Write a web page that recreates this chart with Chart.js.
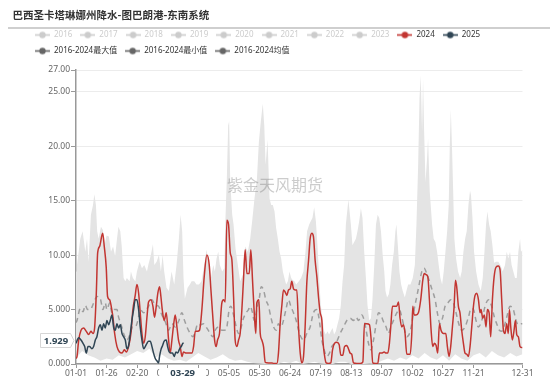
<!DOCTYPE html>
<html><head><meta charset="utf-8">
<script src="https://cdn.jsdelivr.net/npm/chart.js@4.4.1/dist/chart.umd.min.js"></script>
<style>
html,body{margin:0;padding:0;background:#fff;}
#wrap{position:relative;width:550px;height:382px;overflow:hidden;}
canvas{position:absolute;left:0;top:0;}
#title{position:absolute;left:12.5px;top:8px;height:14px;font:bold 10.5px/14px 'Noto Sans CJK SC',sans-serif;color:#333;white-space:nowrap;}
#rule{position:absolute;left:7.5px;top:27px;width:542.5px;height:1.5px;background:#cfcfcf;}
</style></head><body>
<div id="wrap"><canvas id="c" width="550" height="382"></canvas><div id="title">巴西圣卡塔琳娜州降水-图巴朗港-东南系统</div><div id="rule"></div></div>
<script>
// ---- legend / axis text ----
const inactiveYears = ['2016','2017','2018','2019','2020','2021','2022','2023'];
const activeYears = ['2024','2025'];
const statNames = ['2016-2024最大值','2016-2024最小值','2016-2024均值'];
const xTickDays = [0,25,50,75,100,125,150,175,200,225,250,275,300,325,365];
const xTickLabels = ['01-01','01-26','02-20','03-16','04-10','05-05','05-30','06-24','07-19','08-13','09-07','10-02','10-27','11-21','12-31'];
const yTickValues = [0,5,10,15,20,25,27];
const yTickLabels = ['0.000','5.000','10.00','15.00','20.00','25.00','27.00'];
const pointerDay = 88, pointerDayLabel = '03-29';
const pointerValue = 1.929, pointerValueLabel = '1.929';
const watermark = '紫金天风期货';

// ---- series: [day of year, value] ----
const rain2024 = [[0,0.5],[0.8,0.67],[2.2,2.2],[4.1,3.1],[6.2,3.3],[8.4,3.0],[10.3,2.7],[12.2,3.0],[13.9,2.8],[15.2,3.3],[16.6,6.5],[17.7,10.2],[19.3,10.8],[21.8,12.0],[23.1,10.8],[24.7,8.9],[25.8,6.2],[27.5,5.9],[28.8,5.3],[30.2,4.3],[31.6,2.8],[33.5,1.6],[35.6,1.1],[37.6,1.0],[39.5,1.3],[41.1,1.1],[43.0,1.6],[44.9,2.8],[46.5,5.0],[48.4,6.3],[49.8,7.3],[51.2,6.5],[52.5,4.7],[53.9,2.8],[55.3,1.9],[56.6,2.5],[58.0,4.3],[59.3,5.7],[61.2,5.9],[62.9,5.3],[64.2,4.3],[65.6,5.3],[66.9,6.5],[68.3,7.1],[69.4,6.2],[70.5,5.0],[72.1,4.0],[73.8,4.7],[75.7,2.2],[77.0,1.0],[78.4,2.2],[79.8,3.6],[81.1,4.5],[82.5,3.4],[83.8,2.2],[85.2,1.6],[86.6,0.7],[87.9,1.1],[90.1,1.0],[92.0,1.0],[94.7,1.0],[96.1,1.6],[97.5,3.0],[99.4,3.0],[101.0,3.1],[102.9,5.0],[104.8,8.0],[107.0,10.0],[108.9,9.1],[110.3,6.8],[111.6,4.7],[113.3,2.2],[114.6,1.6],[115.7,2.2],[117.3,2.8],[119.2,5.6],[120.6,5.9],[122.0,5.7],[123.3,13.2],[124.7,12.8],[126.1,10.2],[127.4,9.6],[128.8,6.2],[130.1,2.2],[131.5,1.6],[132.9,2.2],[134.2,2.8],[135.6,5.0],[136.9,7.7],[138.3,10.5],[139.7,8.3],[141.6,8.3],[142.9,10.5],[144.3,7.7],[145.7,4.7],[147.0,2.8],[147.8,5.6],[149.5,5.9],[150.6,2.8],[151.9,2.2],[153.3,1.6],[154.7,0.15],[157.4,0.1],[160.1,0.1],[161.5,0.05],[164.2,0.05],[165.5,1.0],[166.9,3.7],[168.3,5.4],[169.6,6.8],[171.0,6.6],[172.4,6.3],[173.7,6.8],[175.1,6.9],[176.4,7.6],[177.8,6.9],[179.2,6.8],[180.5,6.8],[181.9,3.4],[183.3,1.0],[184.6,0.1],[186.0,0.7],[187.3,3.4],[188.7,7.5],[190.1,9.5],[191.4,11.5],[192.8,12.0],[194.1,11.7],[195.5,9.5],[196.9,8.0],[198.2,6.2],[199.6,4.7],[201.0,4.0],[201.8,2.2],[202.9,1.0],[204.5,0.1],[206.4,0.05],[208.3,0.1],[209.7,1.3],[211.3,1.9],[213.2,2.0],[215.1,1.8],[216.5,0.8],[218.1,0.8],[219.5,1.6],[221.4,1.7],[222.7,1.4],[224.1,1.0],[225.4,0.9],[226.8,0.1],[229.6,0.05],[232.3,0.05],[234.5,0.2],[235.8,3.7],[237.7,3.7],[239.9,3.6],[241.3,2.2],[242.6,0.1],[244.5,0.05],[246.7,0.05],[248.1,1.0],[249.9,1.0],[251.9,1.1],[253.5,1.0],[254.9,1.0],[256.2,1.9],[257.3,3.4],[258.7,5.3],[260.9,5.3],[262.2,5.3],[263.6,5.7],[264.9,4.2],[266.3,3.4],[267.7,3.6],[269.0,2.8],[270.4,0.9],[273.2,0.9],[274.5,2.8],[275.3,5.3],[276.4,4.5],[278.0,4.5],[279.9,4.7],[281.8,5.9],[283.5,7.7],[284.6,8.3],[286.2,8.2],[287.6,8.0],[288.9,5.9],[290.3,3.1],[291.6,1.6],[293.0,1.9],[294.4,1.7],[295.7,1.0],[297.1,3.7],[298.4,3.1],[300.3,2.8],[302.3,2.8],[303.6,1.6],[305.0,0.7],[306.3,1.6],[307.7,3.4],[309.1,5.3],[310.2,7.7],[311.2,7.1],[312.6,5.3],[313.9,4.7],[315.3,3.1],[316.7,1.9],[318.0,1.0],[319.4,0.9],[320.8,0.7],[322.1,1.6],[323.5,3.4],[324.9,5.3],[326.2,6.3],[327.6,6.5],[329.0,5.9],[330.3,4.7],[331.1,5.0],[332.5,4.2],[333.8,4.5],[335.2,3.4],[336.3,5.0],[337.7,4.7],[339.0,2.5],[340.4,5.9],[341.8,8.0],[343.4,8.9],[345.3,9.0],[346.7,8.6],[348.0,5.9],[349.4,3.1],[350.7,2.8],[352.1,3.7],[353.4,2.8],[354.3,5.0],[355.4,3.4],[356.7,2.2],[358.1,3.1],[359.2,4.0],[360.3,2.7],[361.6,2.5],[363.0,1.6],[365,1.5]];

const rain2025 = [[0,1.9],[2.2,2.4],[4.1,2.2],[5.7,1.9],[7.1,1.6],[8.4,1.0],[9.8,1.6],[11.1,1.6],[13.0,1.4],[14.4,1.6],[15.8,2.2],[17.1,2.5],[18.5,3.3],[19.9,3.6],[21.2,3.1],[22.6,3.7],[23.9,3.3],[25.3,4.0],[26.7,3.6],[28.0,4.0],[29.4,4.5],[30.7,3.4],[32.1,3.1],[33.5,3.7],[34.8,3.3],[36.2,3.6],[37.6,2.8],[38.9,2.5],[40.3,2.2],[41.6,1.4],[43.0,1.7],[44.4,2.8],[45.7,4.0],[47.1,5.0],[48.4,5.9],[49.8,5.9],[51.2,5.0],[52.5,3.4],[53.9,2.2],[55.3,1.4],[56.6,1.6],[58.0,1.9],[59.3,2.1],[60.7,2.1],[62.1,1.6],[63.4,1.0],[64.8,0.5],[66.1,0.3],[67.5,0.1],[68.3,0.7],[69.4,1.3],[70.8,1.7],[72.1,2.1],[73.8,2.2],[74.9,1.6],[76.2,1.1],[77.6,1.0],[78.9,1.0],[80.3,0.7],[81.7,1.1],[83.0,1.0],[84.7,1.4],[86.0,1.6],[87.4,1.9],[88,1.929]];

const rainAvg = [[0,3.8],[0.8,4.0],[3.5,5.1],[5.7,4.8],[7.6,5.4],[9.5,5.0],[11.7,5.0],[14.4,5.6],[17.1,6.2],[19.9,6.0],[22.0,5.0],[23.9,5.6],[25.3,5.0],[27.5,5.6],[29.4,4.7],[31.3,5.0],[33.5,5.0],[34.8,4.3],[36.7,3.7],[38.9,2.8],[41.6,2.2],[44.4,2.8],[46.3,3.4],[48.4,3.4],[50.6,4.0],[52.5,5.0],[55.3,4.7],[57.4,5.0],[59.3,5.3],[62.1,5.9],[64.8,5.4],[67.5,5.3],[70.2,4.5],[72.9,3.9],[75.7,3.1],[78.4,3.7],[81.1,3.4],[83.8,3.9],[86.6,4.7],[88.7,4.0],[90.7,3.4],[93.4,2.8],[95.6,2.5],[97.5,3.0],[99.6,3.7],[101.5,3.6],[104.3,3.7],[107.0,3.3],[109.7,2.8],[111.9,2.5],[113.8,3.1],[116.5,3.4],[119.2,3.1],[121.2,3.1],[123.3,3.4],[125.2,5.0],[126.6,5.3],[128.8,4.5],[131.0,3.4],[132.9,2.8],[134.8,3.3],[136.9,4.2],[139.1,4.7],[141.0,5.0],[142.4,5.3],[144.3,4.7],[145.7,4.0],[147.8,5.0],[149.8,6.0],[151.4,7.1],[153.3,6.8],[155.2,5.9],[157.4,5.3],[159.3,4.3],[161.5,3.4],[163.6,3.1],[165.5,3.7],[167.5,3.4],[169.6,4.0],[171.6,5.0],[173.7,5.9],[175.6,5.3],[177.8,4.7],[180.0,4.0],[181.9,3.1],[183.8,2.5],[186.0,2.2],[188.7,2.8],[191.4,3.4],[194.1,4.7],[196.9,5.0],[198.2,4.5],[199.6,3.4],[201.0,2.2],[202.9,1.3],[205.0,0.7],[207.2,1.0],[209.1,1.6],[211.9,1.9],[213.7,2.2],[215.9,2.8],[218.7,3.4],[221.4,4.0],[224.1,4.2],[226.8,4.0],[229.0,4.3],[230.9,4.0],[233.6,4.5],[235.6,4.0],[237.2,3.1],[239.1,1.9],[241.0,1.3],[243.2,2.2],[245.4,3.7],[247.3,4.7],[249.2,4.5],[251.3,3.9],[253.5,3.4],[255.4,2.8],[257.3,3.4],[259.5,4.0],[262.2,4.7],[264.4,5.0],[266.3,4.3],[268.2,3.4],[270.4,2.5],[272.6,2.8],[274.5,3.7],[276.4,5.0],[278.6,6.2],[280.7,7.4],[282.7,8.5],[284.6,8.8],[286.7,8.3],[288.9,7.6],[291.1,6.8],[293.6,5.9],[295.4,4.7],[297.6,3.7],[299.8,4.3],[301.7,5.3],[303.9,5.6],[306.4,5.9],[308.5,5.6],[310.7,4.7],[312.9,3.7],[315.3,3.1],[318.0,3.4],[320.8,4.3],[323.0,5.1],[324.9,5.0],[327.0,4.0],[328.9,3.4],[331.7,4.0],[334.4,5.3],[337.1,5.9],[339.8,5.3],[342.0,4.3],[343.9,3.7],[346.1,3.1],[348.0,3.0],[349.9,3.4],[352.1,4.3],[354.8,5.3],[357.5,5.0],[359.7,4.0],[361.6,3.6],[363.8,3.7],[365,3.7]];

const rainMax = [[0,8.5],[0.8,9.1],[3.5,11.5],[5.4,12.2],[7.6,10.3],[9.0,11.5],[10.3,9.4],[12.2,13.7],[13.9,14.6],[15.0,15.6],[16.3,14.6],[17.3,12.2],[18.5,11.5],[20.4,12.6],[22.0,12.3],[23.5,11.0],[25.0,11.8],[26.9,11.7],[28.6,10.3],[30.3,10.8],[32.0,9.9],[33.5,11.5],[34.7,12.6],[36.2,12.2],[37.4,10.8],[38.9,7.9],[40.3,7.6],[41.6,7.9],[43.8,7.6],[44.9,8.5],[46.5,7.9],[48.5,7.6],[49.8,8.5],[52.0,9.4],[53.9,8.8],[55.8,9.1],[58.0,8.5],[59.1,9.1],[61.2,10.0],[62.9,11.0],[64.0,9.1],[65.9,9.4],[67.8,10.0],[69.4,8.5],[70.8,10.0],[72.1,8.5],[74.0,7.0],[75.9,6.7],[78.1,8.5],[80.3,7.3],[82.2,9.1],[84.1,11.5],[85.5,13.7],[86.8,12.2],[87.9,7.9],[89.0,6.0],[91.2,7.0],[93.1,7.3],[94.5,7.6],[96.7,7.6],[98.5,7.3],[100.5,7.3],[102.6,7.6],[104.8,9.1],[106.7,10.5],[108.1,9.5],[110.3,7.9],[112.2,9.1],[113.5,8.5],[114.9,9.7],[116.3,10.3],[117.6,9.1],[119.5,8.5],[121.2,8.8],[122.2,13.5],[123.3,17.0],[124.4,21.9],[125.2,22.3],[126.1,16.7],[127.7,13.7],[128.8,12.8],[130.4,10.6],[132.3,9.1],[134.2,7.6],[136.4,8.2],[138.3,10.8],[140.5,10.3],[142.4,11.5],[144.0,13.1],[145.9,15.2],[147.9,17.0],[149.5,20.4],[151.1,22.3],[152.7,23.9],[153.9,21.9],[155.0,18.3],[156.6,20.6],[158.2,15.2],[159.6,14.6],[160.9,14.6],[162.3,14.0],[163.6,12.5],[165.0,11.5],[166.4,10.3],[167.7,9.7],[169.1,8.5],[170.4,7.9],[171.8,7.3],[173.2,7.6],[174.5,8.5],[175.9,7.9],[177.2,7.7],[178.6,7.6],[180.0,7.3],[182.2,7.6],[184.0,7.9],[185.9,8.5],[187.6,10.3],[188.9,12.2],[190.6,12.8],[191.9,13.1],[193.3,13.4],[194.7,14.4],[196.1,13.1],[197.4,10.9],[198.8,7.9],[200.1,5.4],[201.5,4.2],[202.9,3.0],[204.2,2.7],[205.6,3.0],[206.9,2.7],[208.3,3.0],[209.7,3.3],[211.0,2.7],[212.4,3.0],[213.7,3.6],[215.1,4.2],[216.5,5.4],[217.9,7.6],[219.2,9.1],[220.6,12.8],[222.7,15.1],[224.7,12.8],[226.0,10.9],[227.4,11.2],[228.8,11.5],[230.1,12.2],[231.5,13.1],[232.9,14.3],[234.2,13.4],[235.6,10.3],[237.0,7.9],[238.3,5.4],[239.7,4.0],[241.1,4.2],[242.4,6.0],[243.8,9.1],[245.2,12.8],[246.6,13.7],[247.9,13.4],[249.3,12.2],[250.7,10.0],[252.0,8.5],[253.0,6.7],[254.3,6.1],[255.7,6.4],[257.0,7.3],[258.4,9.1],[259.8,10.3],[261.1,12.2],[261.9,12.8],[263.1,10.9],[264.4,8.5],[265.8,7.3],[267.1,6.7],[268.8,6.1],[270.1,6.7],[271.5,7.3],[273.4,7.3],[275.3,7.9],[277.0,9.1],[278.3,12.8],[279.7,18.3],[280.8,24.4],[281.8,26.5],[282.9,21.3],[283.7,26.2],[284.6,21.3],[285.7,16.7],[287.0,18.9],[287.8,20.7],[289.2,15.8],[291.1,12.8],[292.4,11.5],[293.8,11.2],[295.2,10.3],[296.5,9.1],[297.9,7.9],[299.3,7.3],[300.6,8.5],[302.0,10.3],[303.4,12.2],[304.7,14.6],[305.5,19.8],[306.4,23.4],[307.4,19.8],[308.3,16.0],[309.3,11.5],[310.7,9.7],[312.3,8.5],[314.0,7.9],[315.3,8.5],[316.7,10.3],[318.1,11.5],[319.4,12.2],[320.8,14.6],[322.1,15.9],[322.9,15.5],[324.1,13.4],[325.4,10.3],[327.1,8.5],[329.0,7.3],[330.9,6.7],[332.5,7.9],[333.9,10.3],[335.2,12.8],[336.3,14.0],[337.7,12.8],[339.0,12.2],[340.4,10.9],[341.8,9.3],[343.4,9.4],[345.3,9.4],[347.2,9.0],[348.8,8.5],[350.7,9.1],[352.1,10.3],[353.4,9.7],[354.8,10.3],[356.1,9.1],[357.5,8.5],[358.9,7.9],[360.3,7.9],[361.6,10.3],[363.0,11.5],[363.8,10.3],[365,10.5]];

const rainMin = [[0,0.5],[5,1.2],[10,0.8],[15,0.6],[20,0.3],[25,0.5],[30,0.4],[35,0.8],[40,0.6],[45,0.9],[50,1.2],[55,1.0],[60,1.4],[65,0.6],[70,0.9],[75,0.5],[80,0.3],[85,0.4],[90,0.2],[95,0.6],[100,1.0],[105,0.7],[110,0.4],[115,0.6],[120,0.9],[125,0.5],[130,0.3],[135,0.4],[140,0.2],[145,0.1],[150,0.05],[155,0],[160,0],[165,0],[170,0.2],[175,0.1],[180,0.3],[185,0],[190,0.1],[195,0.2],[200,0.05],[205,0],[210,0],[215,0.2],[220,0.2],[225,0],[230,0],[235,0],[240,0.05],[245,0],[250,0.3],[255,0.5],[260,0.3],[265,0.6],[270,0.4],[275,0.8],[280,0.5],[285,1.0],[290,0.6],[295,0.4],[300,0.8],[305,0.3],[310,0.9],[315,0.5],[320,0.3],[325,0.8],[330,1.0],[335,0.6],[340,1.2],[345,0.8],[350,0.6],[355,1.0],[360,0.7],[365,0.9]];

// ---- styling ----
const C2024 = '#c23531', C2025 = '#2f4554', CAVG = '#9e9e9e', CBAND = '#e4e4e4', CINACT = '#cccccc', CSTAT = '#666666';
const FAMILY = "'Noto Sans','Noto Sans CJK SC',sans-serif";
Chart.defaults.font.family = FAMILY;

function legendIcon(color) {
  const cv = document.createElement('canvas');
  cv.width = 15; cv.height = 9;
  const g = cv.getContext('2d');
  g.strokeStyle = color; g.lineWidth = 1.6;
  g.beginPath(); g.moveTo(0, 4.5); g.lineTo(15, 4.5); g.stroke();
  g.fillStyle = color;
  g.beginPath(); g.arc(7.5, 4.5, 3.2, 0, Math.PI * 2); g.fill();
  return cv;
}
const iconInactive = legendIcon(CINACT), icon2024 = legendIcon(C2024), icon2025 = legendIcon(C2025), iconStat = legendIcon(CSTAT);
function mkItem(text, icon, color) {
  return {text, pointStyle: icon, fontColor: color, fillStyle: color, strokeStyle: color, lineWidth: 0, hidden: false};
}
const toXY = a => a.map(p => ({x: p[0], y: p[1]}));

const legendShift = {
  id: 'legendShift',
  afterInit(chart) {
    const lg = chart.legend;
    if (lg && !lg._shifted) {
      const f = lg.fit;
      lg.fit = function () { f.call(this); this.height += 5; };
      lg._shifted = true;
    }
  }
};

const overlay = {
  id: 'overlay',
  afterDatasetsDraw(chart) {
    const ctx = chart.ctx;
    ctx.save();
    ctx.font = "16px 'Noto Sans CJK SC'";
    ctx.fillStyle = 'rgba(120,120,120,0.38)';
    ctx.textAlign = 'center'; ctx.textBaseline = 'middle';
    ctx.fillText(watermark, chart.width / 2, 185);
    ctx.restore();
  },
  afterDraw(chart) {
    const ctx = chart.ctx, xs = chart.scales.x, ys = chart.scales.y;
    ctx.save();
    // x pointer label
    const px = xs.getPixelForValue(pointerDay);
    ctx.fillStyle = '#fff';
    ctx.fillRect(px - 24.5, ys.bottom + 4.5, 47, chart.height - ys.bottom - 4.5);
    ctx.font = "bold 9.5px 'Noto Sans',sans-serif";
    ctx.fillStyle = C2025; ctx.textAlign = 'center'; ctx.textBaseline = 'middle';
    ctx.fillText(pointerDayLabel, px - 1, 373.5);
    // y pointer label
    const py = ys.getPixelForValue(pointerValue) - 2.5;
    const l = 40.5, r = 70.5, t = py - 7, b = py + 7;
    ctx.beginPath();
    ctx.moveTo(l, t); ctx.lineTo(r, t); ctx.lineTo(r + 3.5, py); ctx.lineTo(r, b); ctx.lineTo(l, b); ctx.closePath();
    ctx.fillStyle = '#fff'; ctx.fill();
    ctx.strokeStyle = '#d6d6d6'; ctx.lineWidth = 1; ctx.stroke();
    ctx.fillStyle = C2025;
    ctx.fillText(pointerValueLabel, (l + r) / 2 + 0.5, py + 0.5);
    ctx.restore();
  }
};

new Chart(document.getElementById('c'), {
  type: 'line',
  data: {
    datasets: [
      {label: statNames[0], data: toXY(rainMax), borderWidth: 0, pointRadius: 0, backgroundColor: CBAND, borderColor: CBAND, fill: 1, tension: 0, order: 3},
      {label: statNames[1], data: toXY(rainMin), borderWidth: 0, pointRadius: 0, borderColor: CBAND, fill: false, tension: 0, order: 4},
      {label: statNames[2], data: toXY(rainAvg), borderColor: CAVG, borderWidth: 1.5, borderDash: [5, 4], pointRadius: 0, fill: false, cubicInterpolationMode: 'monotone', order: 2},
      {label: activeYears[0], data: toXY(rain2024), borderColor: C2024, borderWidth: 1.5, pointRadius: 0, fill: false, cubicInterpolationMode: 'monotone', order: 1},
      {label: activeYears[1], data: toXY(rain2025), borderColor: C2025, borderWidth: 1.5, pointRadius: 0, fill: false, cubicInterpolationMode: 'monotone', order: 0}
    ]
  },
  options: {
    responsive: false, animation: false, devicePixelRatio: 1, events: [],
    layout: {padding: {left: 27, right: 27.5, top: 23, bottom: 3.8}},
    plugins: {
      title: {display: false},
      tooltip: {enabled: false},
      legend: {
        display: true, position: 'top', align: 'start',
        labels: {
          usePointStyle: true, pointStyleWidth: 15, boxWidth: 15, boxHeight: 8, padding: 8,
          font: {size: 8, family: FAMILY},
          generateLabels: () => {
            const items = inactiveYears.map(n => mkItem(n, iconInactive, CINACT));
            items.push(mkItem(activeYears[0], icon2024, '#333'));
            items.push(mkItem(activeYears[1], icon2025, '#333'));
            statNames.forEach(n => items.push(mkItem(n, iconStat, '#333')));
            return items;
          }
        }
      }
    },
    scales: {
      x: {
        type: 'linear', min: 0, max: 365,
        afterBuildTicks: s => { s.ticks = xTickDays.map(v => ({value: v})); },
        ticks: {
          autoSkip: false, maxRotation: 0, padding: 0, color: '#666', font: {size: 8.5},
          callback: v => { const i = xTickDays.indexOf(v); return i >= 0 ? xTickLabels[i] : ''; }
        },
        grid: {drawOnChartArea: false, drawTicks: true, tickLength: 4, tickColor: '#999'},
        border: {color: '#999', width: 1.5}
      },
      y: {
        type: 'linear', min: 0, max: 27,
        afterBuildTicks: s => { s.ticks = yTickValues.map(v => ({value: v})); },
        afterFit: s => { s.width = 49; },
        ticks: {
          padding: 1, color: '#666', font: {size: 8.5},
          callback: v => { const i = yTickValues.indexOf(v); return i >= 0 ? yTickLabels[i] : ''; }
        },
        grid: {color: '#ececec', lineWidth: 1, tickLength: 5, tickColor: '#999'},
        border: {color: '#999', width: 1.5}
      }
    }
  },
  plugins: [legendShift, overlay]
});
</script></body></html>
